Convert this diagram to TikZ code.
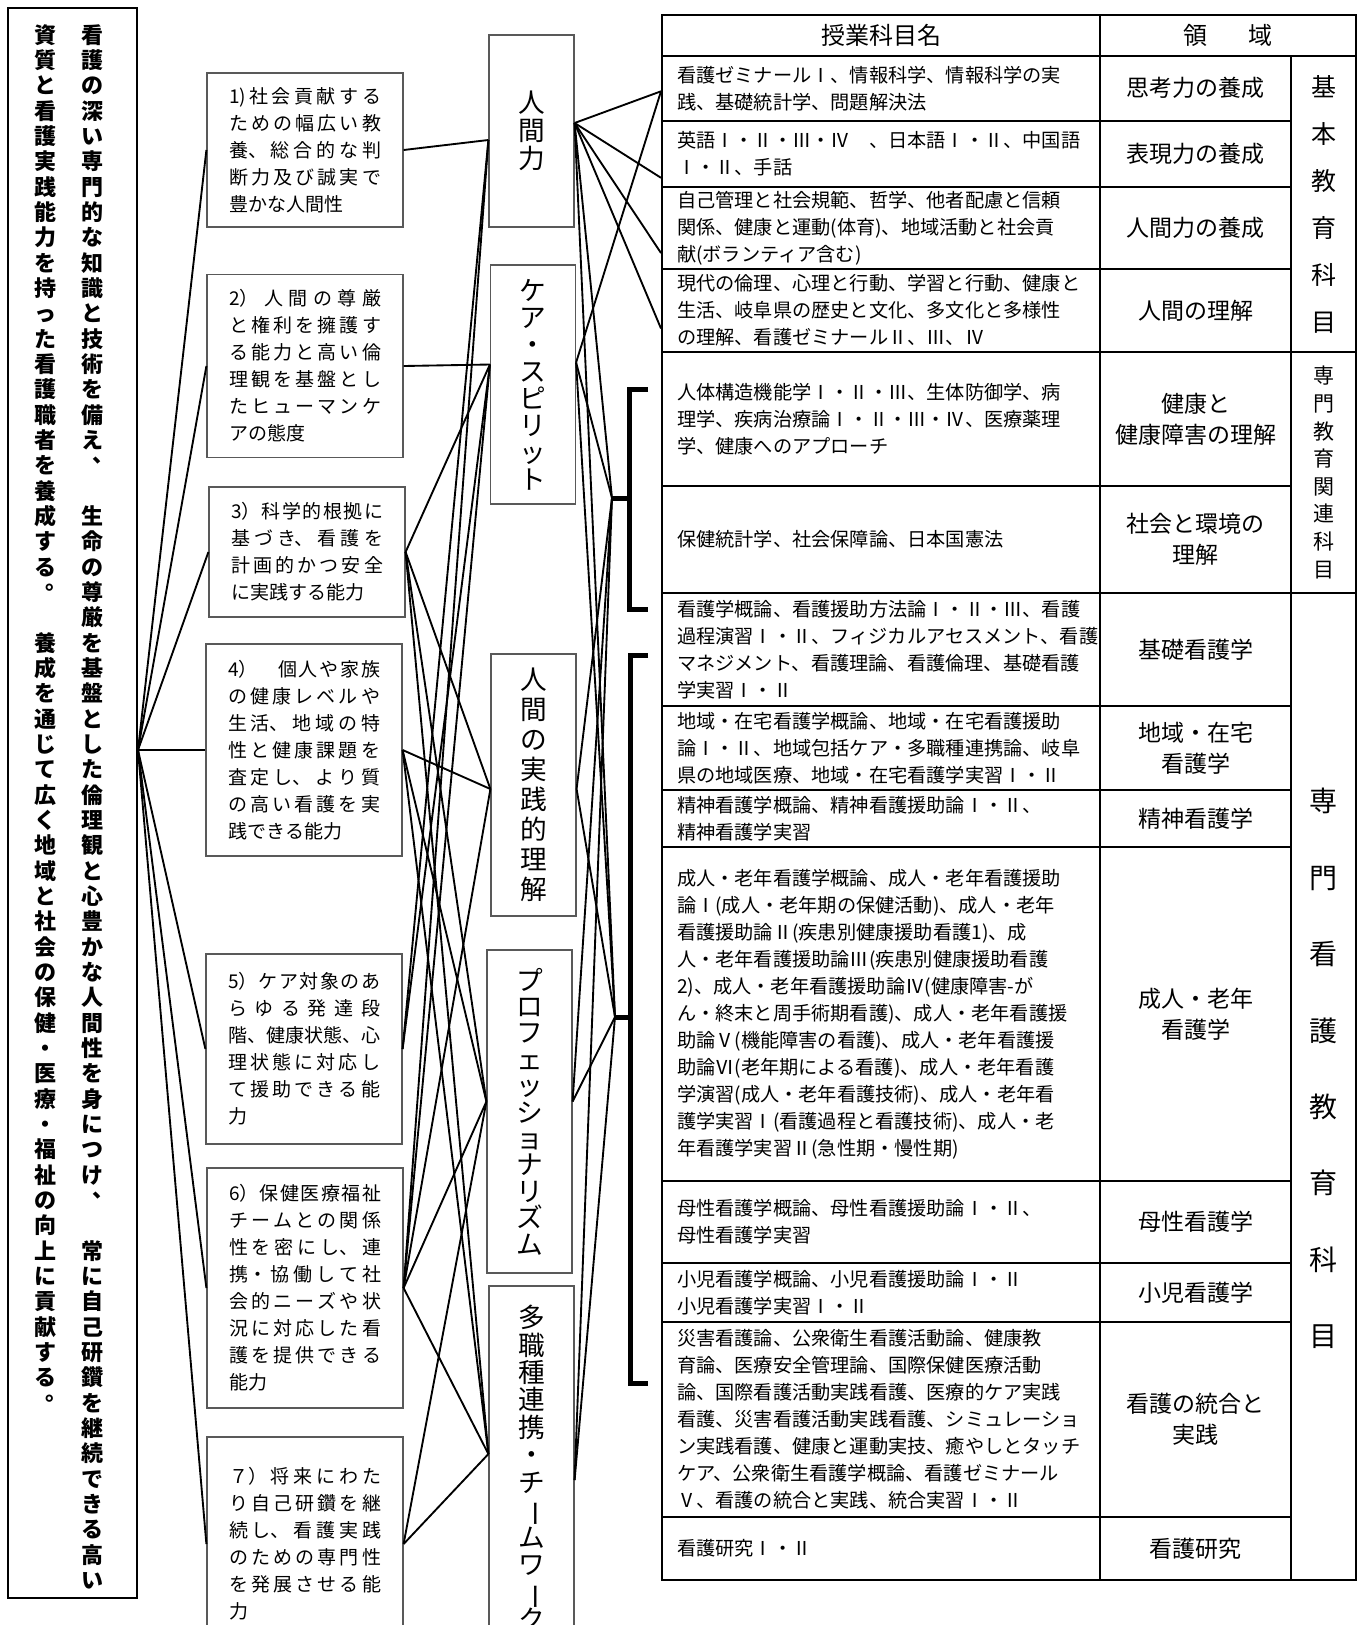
\documentclass[tikz,border=0pt]{standalone}
\usepackage{fontspec}
\usepackage{graphicx}
\setmainfont{Noto Sans CJK JP}
\usetikzlibrary{calc}

% tategaki: one character per cell
\ExplSyntaxOn
\cs_new_protected:Npn \__tate_glyph:n #1
  {
    \str_case:nnF {#1}
      {
        {、} { \hspace{0.52em} \raisebox{0.5em}{#1} \hss }
        {。} { \hspace{0.52em} \raisebox{0.5em}{#1} \hss }
        {ー} { \hss \rotatebox[origin=c]{-90}{#1} \hss }
      }
      { \hss #1 \hss }
  }
\NewDocumentCommand \tate { m m }
  {
    \vbox
      {
        \baselineskip = #1 \relax
        \lineskiplimit = -\maxdimen
        \tl_map_inline:nn {#2}
          { \hbox_to_wd:nn { 1em } { \__tate_glyph:n {##1} } }
      }
  }
\ExplSyntaxOff
\newcommand\jabreak{\XeTeXlinebreaklocale "ja"\XeTeXlinebreakskip=0pt plus 6pt\relax\tolerance=9999\relax}
\newcommand\nojabreak{\XeTeXlinebreaklocale ""\relax\XeTeXlinebreakskip=0pt\relax}

\tikzset{every picture/.style={line width=0.75pt}}
\tikzset{
  mission/.style={draw, line width=1.5pt, minimum width=96.75pt, minimum height=1192.5pt, inner sep=0pt},
  missiontext/.style={inner sep=0pt, anchor=north, font=\bfseries\fontsize{16.5}{18}\selectfont},
  goal/.style={draw=black!65, line width=0.9pt, text width=114pt, inner xsep=16.5pt, inner ysep=0pt, align=justify, font=\jabreak\fontsize{14.25}{20.25}\selectfont},
  concept/.style={draw=black!65, line width=0.9pt, minimum width=63.75pt, inner sep=0pt, font=\fontsize{20}{22}\selectfont},
  link/.style={line width=1.4pt},
  brace/.style={line width=3.75pt},
  grid/.style={draw, line width=1.5pt, inner sep=0pt},
  head/.style={grid, minimum height=30.75pt, font=\nojabreak\fontsize{18}{20}\selectfont},
  subj/.style={grid, text width=306pt, inner xsep=11.25pt, align=left, font=\nojabreak\fontsize{14.4}{20.25}\selectfont},
  area/.style={grid, minimum width=143.25pt, align=center, font=\nojabreak\fontsize{17.25}{23.25}\selectfont},
  kind/.style={grid, minimum width=48.75pt},
}

\begin{document}
\begin{tikzpicture}[x=0.75pt,y=0.75pt,yscale=-1,xscale=1]
\useasboundingbox (0,0) rectangle (1365,1625);
\clip (0,0) rectangle (1365,1625);

%Shape: Rectangle [mission]
\node[mission] (mission) at (72.5,803) {};
% Text Node
\node[missiontext] (mright) at (92.5,24) {\tate{19pt}{看護の深い専門的な知識と技術を備え、　生命の尊厳を基盤とした倫理観と心豊かな人間性を身につけ、　常に自己研鑽を継続できる高い}};
% Text Node
\node[missiontext] (mleft) at (45,24) {\tate{19pt}{資質と看護実践能力を持った看護職者を養成する。　養成を通じて広く地域と社会の保健・医療・福祉の向上に貢献する。}};

%Shape: Rectangle [goals]
\node[goal, minimum height=115.5pt] (g1) at (305,150) {1)社会貢献する\linebreak ための幅広い教\linebreak 養、総合的な判\linebreak 断力及び誠実で\linebreak 豊かな人間性};
\node[goal, minimum height=137.25pt] (g2) at (305,366) {2）人間の尊厳\linebreak と権利を擁護す\linebreak る能力と高い倫\linebreak 理観を基盤とし\linebreak たヒューマンケ\linebreak アの態度};
\node[goal, minimum height=97.5pt] (g3) at (307,552) {3）科学的根拠に\linebreak 基づき、看護を\linebreak 計画的かつ安全\linebreak に実践する能力};
\node[goal, minimum height=159pt] (g4) at (304,750) {4）　個人や家族\linebreak の健康レベルや\linebreak 生活、地域の特\linebreak 性と健康課題を\linebreak 査定し、より質\linebreak の高い看護を実\linebreak 践できる能力};
\node[goal, minimum height=142.5pt] (g5) at (304,1049) {5）ケア対象のあ\linebreak らゆる発達段\linebreak 階、健康状態、心\linebreak 理状態に対応し\linebreak て援助できる能\linebreak 力};
\node[goal, minimum height=180pt] (g6) at (305,1288) {6）保健医療福祉\linebreak チームとの関係\linebreak 性を密にし、連\linebreak 携・協働して社\linebreak 会的ニーズや状\linebreak 況に対応した看\linebreak 護を提供できる\linebreak 能力};
\node[goal, minimum height=160.5pt] (g7) at (305,1544) {７）将来にわた\linebreak り自己研鑽を継\linebreak 続し、看護実践\linebreak のための専門性\linebreak を発展させる能\linebreak 力};

%Shape: Rectangle [concepts]
\node[concept, minimum height=144pt] (hum) at (531.5,131) {\tate{21pt}{人間力}};
\node[concept, minimum height=179.25pt] (care) at (533,384.5) {\tate{20.25pt}{ケア・スピリット}};
\node[concept, minimum height=196.5pt] (prac) at (533.5,785) {\tate{22.5pt}{人間の実践的理解}};
\node[concept, minimum height=242.25pt] (prof) at (529.5,1111.5) {\tate{19.8pt}{プロフェッショナリズム}};
\node[concept, minimum height=273pt] (team) at (531.5,1468) {\tate{20.6pt}{多職種連携・チームワーク}};

%Shape: Table [header]
\node[head, minimum width=328.5pt] (hsubj) at (881,35.5) {授業科目名};
\node[head, minimum width=192pt] (harea) at (1228,35.5) {領\hspace{1.7em}域};

%Shape: Table [subjects]
\node[subj, minimum height=48.45pt] (r1) at (881,88.3) {看護ゼミナールⅠ、情報科学、情報科学の実\\践、基礎統計学、問題解決法};
\node[subj, minimum height=49.8pt] (r2) at (881,153.8) {英語Ⅰ・Ⅱ・Ⅲ・Ⅳ　、日本語Ⅰ・Ⅱ、中国語\\Ⅰ・Ⅱ、手話};
\node[subj, minimum height=61.5pt] (r3) at (881,228) {自己管理と社会規範、哲学、他者配慮と信頼\\関係、健康と運動(体育)、地域活動と社会貢\\献(ボランティア含む)};
\node[subj, minimum height=62.25pt] (r4) at (881,310.5) {現代の倫理、心理と行動、学習と行動、健康と\\生活、岐阜県の歴史と文化、多文化と多様性\\の理解、看護ゼミナールⅡ、Ⅲ、Ⅳ};
\node[subj, minimum height=100.5pt] (r5) at (881,419) {人体構造機能学Ⅰ・Ⅱ・Ⅲ、生体防御学、病\\理学、疾病治療論Ⅰ・Ⅱ・Ⅲ・Ⅳ、医療薬理\\学、健康へのアプローチ};
\node[subj, minimum height=80.25pt] (r6) at (881,539.5) {保健統計学、社会保障論、日本国憲法};
\node[subj, minimum height=84.45pt] (r7) at (881,649.3) {看護学概論、看護援助方法論Ⅰ・Ⅱ・Ⅲ、看護\\過程演習Ⅰ・Ⅱ、フィジカルアセスメント、看護\\マネジメント、看護理論、看護倫理、基礎看護\\学実習Ⅰ・Ⅱ};
\node[subj, minimum height=63.3pt] (r8) at (881,747.8) {地域・在宅看護学概論、地域・在宅看護援助\\論Ⅰ・Ⅱ、地域包括ケア・多職種連携論、岐阜\\県の地域医療、地域・在宅看護学実習Ⅰ・Ⅱ};
\node[subj, minimum height=42.75pt] (r9) at (881,818.5) {精神看護学概論、精神看護援助論Ⅰ・Ⅱ、\\精神看護学実習};
\node[subj, minimum height=250.5pt] (r10) at (881,1014) {成人・老年看護学概論、成人・老年看護援助\\論Ⅰ(成人・老年期の保健活動)、成人・老年\\看護援助論Ⅱ(疾患別健康援助看護1)、成\\人・老年看護援助論Ⅲ(疾患別健康援助看護\\2)、成人・老年看護援助論Ⅳ(健康障害-が\\ん・終末と周手術期看護)、成人・老年看護援\\助論Ⅴ(機能障害の看護)、成人・老年看護援\\助論Ⅵ(老年期による看護)、成人・老年看護\\学演習(成人・老年看護技術)、成人・老年看\\護学実習Ⅰ(看護過程と看護技術)、成人・老\\年看護学実習Ⅱ(急性期・慢性期)};
\node[subj, minimum height=61.5pt] (r11) at (881,1222) {母性看護学概論、母性看護援助論Ⅰ・Ⅱ、\\母性看護学実習};
\node[subj, minimum height=44.25pt] (r12) at (881,1292.5) {小児看護学概論、小児看護援助論Ⅰ・Ⅱ\\小児看護学実習Ⅰ・Ⅱ};
\node[subj, minimum height=146.25pt] (r13) at (881,1419.5) {災害看護論、公衆衛生看護活動論、健康教\\育論、医療安全管理論、国際保健医療活動\\論、国際看護活動実践看護、医療的ケア実践\\看護、災害看護活動実践看護、シミュレーショ\\ン実践看護、健康と運動実技、癒やしとタッチ\\ケア、公衆衛生看護学概論、看護ゼミナール\\Ⅴ、看護の統合と実践、統合実習Ⅰ・Ⅱ};
\node[subj, minimum height=47.25pt] (r14) at (881,1548.5) {看護研究Ⅰ・Ⅱ};

%Shape: Table [areas]
\node[area, minimum height=48.45pt] (a1) at (1195.5,88.3) {思考力の養成};
\node[area, minimum height=49.8pt] (a2) at (1195.5,153.8) {表現力の養成};
\node[area, minimum height=61.5pt] (a3) at (1195.5,228) {人間力の養成};
\node[area, minimum height=62.25pt] (a4) at (1195.5,310.5) {人間の理解};
\node[area, minimum height=100.5pt] (a5) at (1195.5,419) {健康と\\健康障害の理解};
\node[area, minimum height=80.25pt] (a6) at (1195.5,539.5) {社会と環境の\\理解};
\node[area, minimum height=84.45pt] (a7) at (1195.5,649.3) {基礎看護学};
\node[area, minimum height=63.3pt] (a8) at (1195.5,747.8) {地域・在宅\\看護学};
\node[area, minimum height=42.75pt] (a9) at (1195.5,818.5) {精神看護学};
\node[area, minimum height=250.5pt] (a10) at (1195.5,1014) {成人・老年\\看護学};
\node[area, minimum height=61.5pt] (a11) at (1195.5,1222) {母性看護学};
\node[area, minimum height=44.25pt] (a12) at (1195.5,1292.5) {小児看護学};
\node[area, minimum height=146.25pt] (a13) at (1195.5,1419.5) {看護の統合と\\実践};
\node[area, minimum height=47.25pt] (a14) at (1195.5,1548.5) {看護研究};

%Shape: Table [kinds]
\node[kind, minimum height=222pt, font=\fontsize{18.75}{20}\selectfont] (k1) at (1323.5,204) {\tate{35.25pt}{基本教育科目}};
\node[kind, minimum height=180.75pt, font=\fontsize{15.75}{17}\selectfont] (k2) at (1323.5,472.5) {\tate{20.7pt}{専門教育関連科目}};
\node[kind, minimum height=740.25pt] (k3) at (1323.5,1086.5) {};
% Text Node
\node[inner sep=0pt, font=\fontsize{21}{22}\selectfont] (k3text) at ($(k3.center)+(0,-18)$) {\tate{57.3pt}{専門看護教育科目}};

%Shape: Brackets
\coordinate (b1) at (612,498);
\coordinate (b2) at (615,1017);
\draw[brace] (648,389) -| (629,609) -- (648,609);
\draw[brace] (629,498) -- (b1);
\draw[brace] (648,655) -| (630,1383) -- (648,1383);
\draw[brace] (630,1017) -- (b2);

% pins
\coordinate (hub) at (mission.east |- g4.west);
\foreach \c/\l/\r in {hum/9/-8, care/-20/-22, prac/4/4, prof/-10/-10, team/-14/12}{
  \coordinate (\c-l) at ($(\c.west)+(0,\l)$);
  \coordinate (\c-r) at ($(\c.east)+(0,\r)$);
}
\foreach \n/\d in {1/3, 2/24, 3/25, 4/18}{
  \coordinate (r\n-l) at ($(r\n.west)+(0,\d)$);
}

%Straight Lines [mission to goals]
\foreach \g in {1,...,7}
  \draw[link] (hub) -- (g\g.west);
%Straight Lines [goals to concepts]
\foreach \g/\c in {1/hum, 2/care, 3/care, 3/prac, 3/prof, 3/team, 4/prac, 4/prof, 4/team, 5/hum, 5/care, 6/hum, 6/care, 6/prac, 6/prof, 6/team, 7/prof, 7/team}
  \draw[link] (g\g.east) -- (\c-l);
%Straight Lines [concepts to subjects]
\foreach \c/\t in {hum/r1-l, hum/r2-l, hum/r3-l, hum/r4-l, care/r1-l, hum/b1, hum/b2, care/b1, care/b2, prac/b1, prac/b2, prof/b1, prof/b2, team/b1, team/b2}
  \draw[link] (\c-r) -- (\t);

\end{tikzpicture}
\end{document}
